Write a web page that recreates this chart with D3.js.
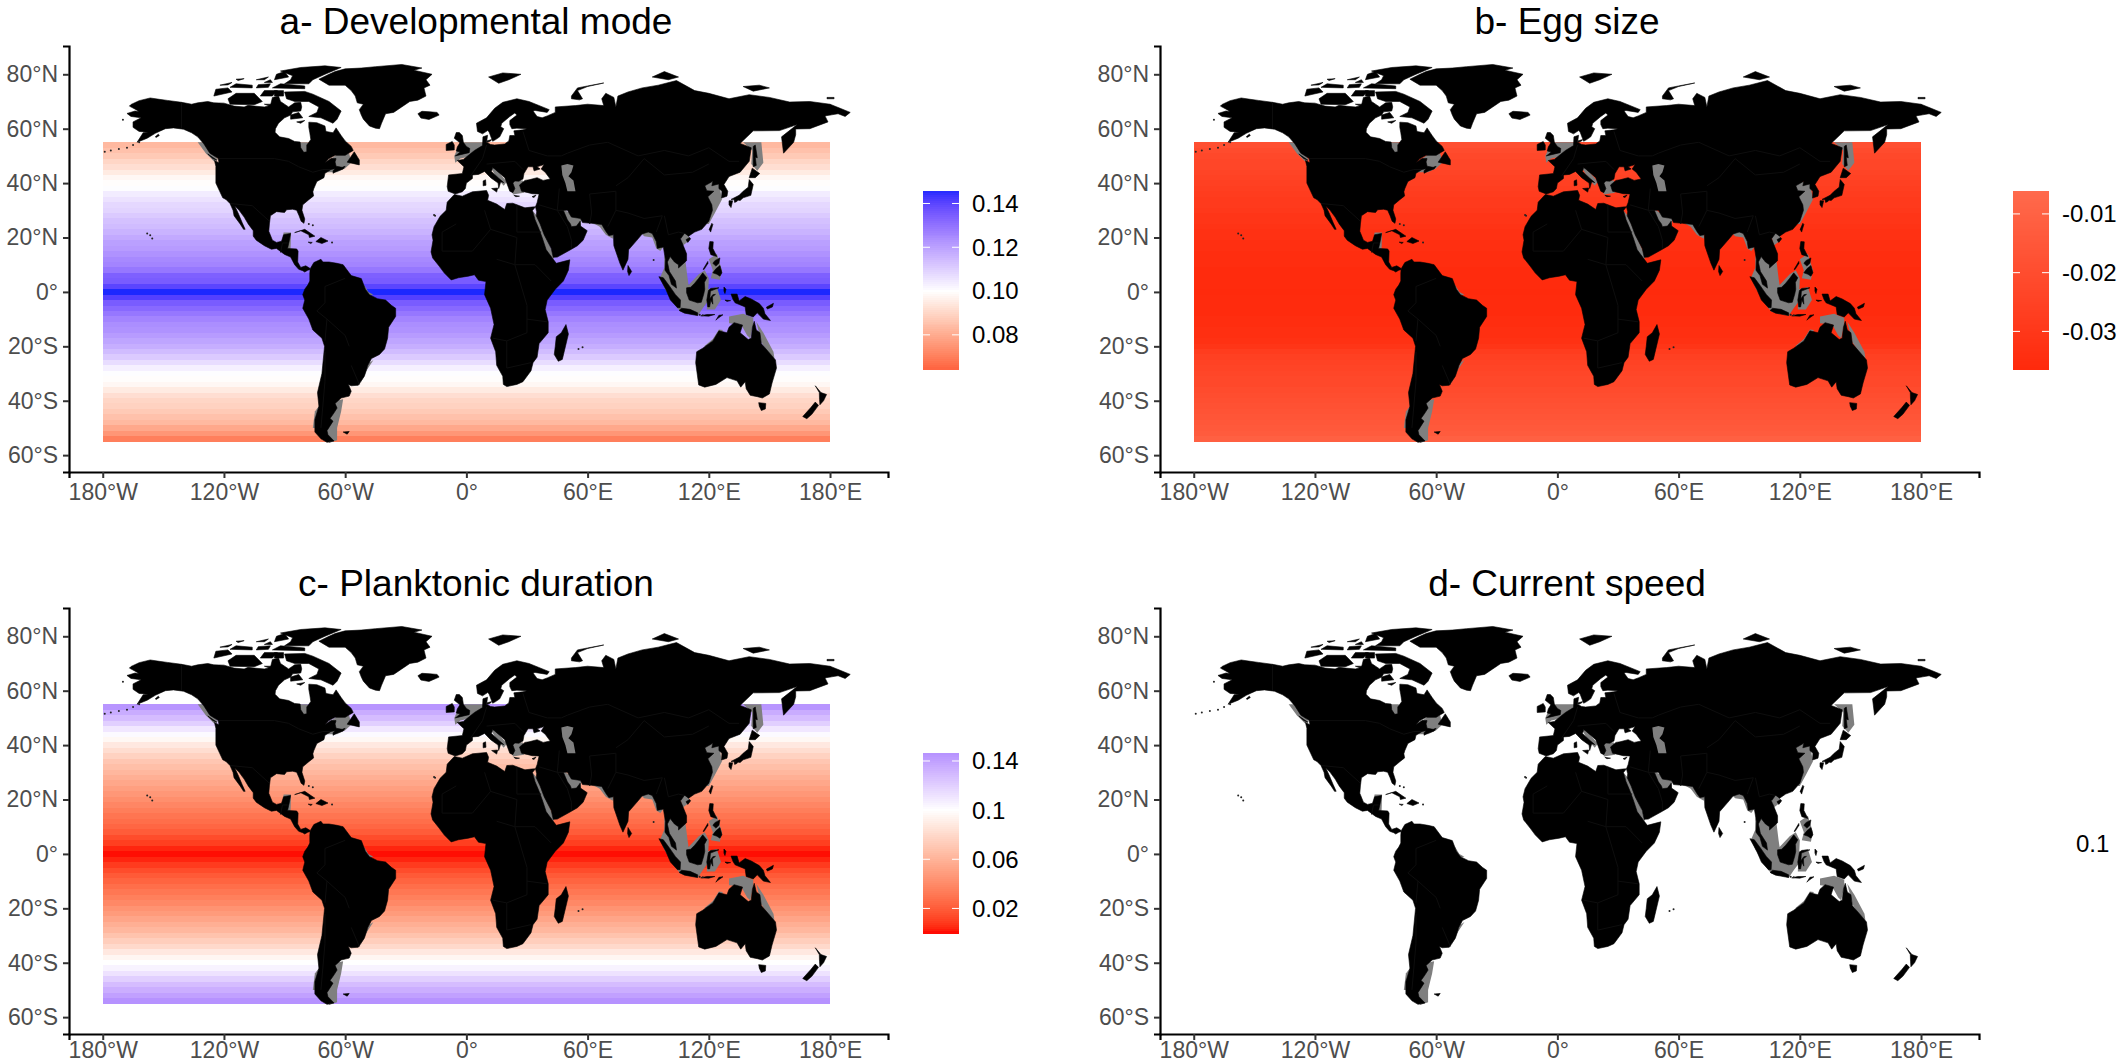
<!DOCTYPE html>
<html>
<head>
<meta charset="utf-8">
<title>Latitudinal gradients</title>
<script src="https://cdn.jsdelivr.net/npm/d3@7"></script>
<style>
  html, body { margin: 0; background: #fff; }
  svg { display: block; font-family: "Liberation Sans", Arial, sans-serif; }
</style>
</head>
<body>
<script>
// latitude bands, north to south, 2 degrees each
var bandLat = d3.range(54, -56, -2);

var devModeValues = [.083, .085, .087, .090, .092, .095, .098, .0995, .1005, .104, .106, .108, .109, .111, .113, .114, .116, .118, .120, .121, .123, .125, .126, .129, .134, .135, .140, .146, .141, .135, .132, .129, .126, .124, .123, .121, .119, .117, .114, .111, .107, .103, .1005, .0995, .098, .095, .092, .090, .089, .087, .085, .083, .079, .075, .070];
var eggSizeValues = [-.019, -.021, -.022, -.023, -.023, -.024, -.025, -.026, -.027, -.028, -.029, -.029, -.030, -.031, -.031, -.032, -.033, -.033, -.034, -.034, -.035, -.035, -.035, -.036, -.036, -.036, -.036, -.0364, -.036, -.036, -.036, -.036, -.035, -.035, -.034, -.034, -.033, -.031, -.028, -.026, -.025, -.024, -.023, -.022, -.022, -.021, -.020, -.019, -.018, -.017, -.016, -.015, -.014, -.013, -.011];
var planktonicValues = [.145, .135, .128, .120, .110, .102, .096, .088, .082, .076, .070, .066, .062, .058, .054, .050, .046, .042, .038, .034, .030, .027, .024, .020, .014, .010, .004, .001, .004, .009, .014, .019, .023, .027, .031, .035, .039, .044, .048, .053, .058, .062, .068, .074, .080, .088, .095, .100, .105, .112, .120, .128, .134, .140, .146];

var lonTicks = [-180, -120, -60, 0, 60, 120, 180];
var lonLabels = ["180°W", "120°W", "60°W", "0°", "60°E", "120°E", "180°E"];
var latTicks = [80, 60, 40, 20, 0, -20, -40, -60];
var latLabels = ["80°N", "60°N", "40°N", "20°N", "0°", "20°S", "40°S", "60°S"];

var titles = ["a- Developmental mode", "b- Egg size", "c- Planktonic duration", "d- Current speed"];

// land outlines, lon/lat
var northAmerica = [[-168,65.6],[-164,66.5],[-162,66.2],[-163.5,67],[-166.8,68.3],[-166,68.9],[-162,70.3],[-156.5,71.3],[-152,70.8],[-148,70.4],[-141,69.7],[-136,69],[-133,69.5],[-128,70],[-125,69.5],[-120,69.4],[-115,68.3],[-110,68],[-108,68.6],[-105,68.3],[-100,68],[-97,68.5],[-96,71.5],[-93,72],[-92,70],[-90,69],[-88,68],[-85,69.5],[-82,69.7],[-81.5,68],[-82,66.5],[-86,66.2],[-87,65],[-90,64],[-93,62],[-94.5,60],[-94.7,58.7],[-92.5,57],[-88,56.4],[-85,55.3],[-82.3,55.1],[-82,53],[-80.5,51.3],[-79,51.5],[-79,54],[-77,56],[-77.5,58.5],[-78,60.5],[-78,62.4],[-74,62.2],[-70,61],[-69.5,59],[-66,58.5],[-64.5,60.3],[-62,57.5],[-60,55.5],[-57,53.5],[-56,52],[-60,50.2],[-65,50.2],[-68,49],[-70,47.5],[-67,49],[-64.5,49],[-65,47.8],[-64.5,46.2],[-61.5,45.8],[-60,46.2],[-61,45.2],[-64,44.4],[-66,43.6],[-66,44.5],[-65,45.3],[-67,45],[-70,43.6],[-70.5,42],[-74,40.6],[-75.5,38],[-76,36.8],[-75.6,35.3],[-78,33.9],[-81,32],[-81.4,30],[-80,26.8],[-80.4,25.2],[-81.8,26],[-82.8,28],[-84,30],[-86,30.4],[-89,30.2],[-90,29.2],[-94,29.5],[-97,28],[-97.5,25],[-97.8,22.3],[-96,19],[-94,18.2],[-91.5,18.6],[-90.5,21],[-87,21.5],[-87.6,19],[-88.5,16],[-84,15.8],[-83.3,15],[-83.5,11],[-82,9],[-79.5,9.6],[-77.5,8.7],[-77.3,8.2],[-78.5,8],[-80,7.3],[-81,7.8],[-83,8.3],[-85,10],[-87,12.8],[-90,13.8],[-94,16],[-96.5,15.7],[-100,17],[-104,19],[-105.5,20.5],[-105.5,22.5],[-108,25],[-110,27.5],[-112.5,30],[-114.7,31.7],[-113,29],[-111,25.5],[-109.5,23],[-110.3,23],[-112,25],[-115,28],[-115.5,30],[-117,32.5],[-119,34],[-120.6,34.6],[-122,36.8],[-124,40],[-124,43],[-124,46.2],[-124.7,48.3],[-122.5,47.5],[-122.8,49],[-127,51],[-130,54.5],[-133,57],[-136,58.5],[-140,59.8],[-145,60.3],[-149,60],[-152,59],[-154,58.3],[-158,56.5],[-163,55],[-160,58.5],[-157.5,58.7],[-162,59],[-165,60.5],[-165,62.5],[-161,64],[-166,64.5]];
var southAmerica = [[-77.3,8.5],[-75.5,10.8],[-72,12],[-71,11],[-68,11],[-64,10.5],[-61,10],[-57,6],[-52,4.9],[-50,1],[-48,-1],[-44,-2.5],[-40,-3],[-37,-5],[-35,-6],[-35,-9],[-38.5,-13],[-39,-17],[-40.5,-21],[-43,-23],[-47,-24.5],[-48.7,-27],[-50.5,-31],[-53.5,-34.3],[-57,-34.5],[-58.4,-34],[-57,-36.5],[-58,-38.3],[-62,-39],[-65,-41],[-64,-42.7],[-66,-45],[-67.5,-46.5],[-66,-47.5],[-69,-51],[-68.5,-52.5],[-65.5,-54.8],[-69,-55.3],[-72,-54],[-75,-51.5],[-75,-47],[-73,-42],[-73.7,-37],[-71.5,-30],[-70.2,-20],[-71.5,-17],[-76,-14],[-78,-10],[-81,-6],[-80,-3],[-81,-1],[-80,1],[-78.5,2.5],[-77.5,4],[-77.5,7]];
var africa = [[-6,35.8],[-2,35.2],[3,36.8],[10,37.3],[11,35.5],[10.5,33.7],[15,32.3],[19,30.3],[20,32.5],[23,32.6],[29,30.9],[32.3,31.2],[34.2,31.3],[32.7,29.9],[34,26.5],[36,23],[37.5,20],[39.5,15.5],[43,12],[44.5,10.5],[51.2,11.8],[50.5,8],[48,4],[44,1],[40,-3],[39,-6.5],[40.5,-11],[40.5,-15],[36,-19],[35,-24],[33,-26],[32,-29],[28,-33],[25,-34],[20,-34.8],[18.3,-34],[18,-31],[15,-27],[14.5,-22],[12,-17],[13.7,-12],[12,-6],[9,-1],[9.7,3.8],[6,4.3],[4,6.3],[1,5.8],[-4,5.2],[-7.5,4.4],[-11,7],[-13.5,9.5],[-16.7,12.5],[-17.5,14.7],[-16.5,19],[-17,21],[-16,24],[-13,27.8],[-10,30],[-9.5,33]];
var eurasia = [[-5.5,36],[-9,37],[-9.5,38.7],[-8.8,43],[-2,43.5],[-1.2,46],[-4.5,48.3],[-1.5,48.7],[1.5,50.5],[4,52],[8,53.8],[8.2,57],[10.5,57.6],[10,55],[12,54.2],[14,54],[19,54.4],[21,55.5],[21.5,57.5],[24,57.5],[23.5,59.2],[28,59.6],[30,60],[25,60.2],[22.5,60],[21.5,61.5],[21.5,63],[25,65],[24,65.8],[21.5,64.5],[17.5,62],[17,60.7],[18.5,60],[16.5,57],[14.5,56],[13,55.4],[12.5,56.3],[11.2,58.9],[10.5,59.3],[8,58.1],[5.5,59],[5,62],[10,64],[14,67.5],[18,69.7],[25,71],[31,70],[41,67],[40,66],[34,66.7],[33,66.5],[35,64.5],[37.5,64],[40,64.7],[44,66],[44,68],[54,68.5],[60,69],[68,68.5],[67,71],[69,73],[73,71.5],[74,68],[75,72],[80,73.5],[87,75],[95,76],[104,77.7],[113,74],[120,73],[130,71],[140,72.5],[150,71.5],[160,69.8],[170,70],[180,69],[180,65],[177.5,64.7],[179,62.5],[170,60],[163,59.9],[163,57.8],[162,55],[157,51],[156,57],[163.7,61.5],[155,59.3],[142,59.2],[135.5,54.6],[141,53],[140,48],[135.5,44],[132,43],[130,42.4],[127.5,39.5],[129.4,37],[129,35.2],[126.3,34.5],[126.5,37],[125,38],[125,39.7],[121.5,39],[122,40.7],[118,39],[119,37.2],[122.5,37],[119.5,35],[121.5,32],[121.8,30],[120,26],[116.5,23],[113,22],[110,20.5],[108,21.6],[106,19.5],[109,14],[109,11.5],[105,8.8],[105,10],[103,11],[100.9,13],[99.5,11],[100.5,7.5],[103.5,4],[104,1.4],[101.5,2.8],[100.3,6],[98.3,8],[98.5,12],[97.5,16.5],[94.5,16],[94,18.5],[92,21.5],[90,22],[87,21.3],[85,19.5],[80.3,15.5],[80,12],[77.5,8],[76,10.5],[73,17],[72.8,21],[70.5,20.7],[69,22.3],[67,24.8],[62,25.2],[57.5,25.5],[56.5,27],[52,27.5],[50,30],[48,30],[50,26.5],[51.5,25],[52,24],[54.5,24.2],[56.3,26],[56.5,24.2],[59.8,22.5],[57.8,19],[55,17],[52,15.7],[45,12.8],[43,12.7],[42,16],[38.5,21],[36.5,25],[34.6,28],[34.8,29.5],[34.2,31.3],[35,32.8],[36,36],[32.5,36.1],[30.5,36.5],[27.3,37],[26.3,39.3],[29,41],[31,41.2],[35,42],[38,41],[41.5,41.5],[39,44],[37,45.2],[38.5,46.8],[35,46],[36.5,45.2],[33.5,44.5],[33,46],[30.5,46],[28.5,43.5],[28,41.5],[26,40.7],[24,40.8],[23,40],[24,38],[23,36.5],[21.5,37],[19.5,41],[19,42],[14,45.2],[13,45.7],[12.4,44.3],[16,41.8],[18.5,40.2],[17,40.5],[16,38],[15.7,40],[12,42],[9,44.3],[6,43.2],[3,43],[3,41.7],[0,40],[-0.5,38],[-2,36.8]];
var chukotkaEnd = [[180,69],[185,67.5],[190,66],[187.5,64.5],[184,65.5],[180,65]];
var greenland = [[-73,78.2],[-68,80],[-65,81],[-60,82],[-52,82.3],[-45,82.8],[-32,83.6],[-22,82.3],[-26,81.5],[-17,80],[-20,78],[-18,76],[-21,75],[-20,72],[-24,70.5],[-28,70],[-32,68],[-36,66],[-40,65.5],[-42,62],[-43,60],[-45,60.2],[-48,61],[-51,63.5],[-52,65],[-53,67],[-51,69],[-54,69.5],[-55,72],[-57,74],[-60,76],[-68,76]];
var arcticCanada = [
  [[-62,66.5],[-64,63.5],[-66,62],[-72,64],[-78,64.5],[-74,66],[-73,68],[-78,70],[-85,70],[-89,71],[-90,73.5],[-80,73.7],[-76,72.7],[-68,70]],
  [[-90,76.5],[-78,76.5],[-76,78],[-70,80],[-62,82.5],[-70,83.1],[-82,82.5],[-92,81.2],[-86,79.5],[-87,78]],
  [[-96,75],[-80,74.7],[-80,75.7],[-92,76.5]],
  [[-95,78],[-88,79],[-90,81],[-94,80]],
  [[-117,69],[-105,68.8],[-101,70],[-105,73],[-114,73],[-118,71]],
  [[-125,72],[-116,73.5],[-118,75],[-124,74.5]],
  [[-117,75.2],[-106,75],[-106,76],[-114,76.5]],
  [[-102,72],[-96,72],[-93.5,74],[-100,74]],
  [[-95,72],[-90.5,72],[-90.5,74],[-95,74]],
  [[-87,63.5],[-81,64],[-83,66],[-87,65]],
  [[-122,76],[-116,77],[-118,76.1]],
  [[-104,75],[-98,75.2],[-97,76.5],[-103,76.2]],
  [[-104,78],[-98,79],[-100,78]],
  [[-100,69],[-95.5,69],[-96,68]],
  [[-84,62.5],[-80,63],[-82,62]],
  [[-100,77],[-96,77],[-97,78]],
  [[-113,77.7],[-110,78.4],[-114,78.2]]
];
var otherLand = [
  [[-59,47.7],[-53,46.7],[-53,48.5],[-55.5,51.5]],
  [[-128,50.7],[-123.5,48.4],[-125.5,49]],
  [[-154,57],[-152.5,58],[-152,57.5],[-153.5,56.8]],
  [[-85,21.8],[-80,23],[-75,20.5],[-77.7,20],[-78,21],[-82,22.5]],
  [[-74.5,18.5],[-72,20],[-68.5,18.7],[-71.5,17.8]],
  [[-78.3,18.3],[-76.3,18.2],[-77,17.8]],
  [[-5.5,50],[1.4,51.2],[1.7,52.7],[0,53.5],[-1.5,55],[-2,57.5],[-3.5,58.6],[-5,58.6],[-6,56.5],[-3.2,54.8],[-4.5,53.3],[-5,51.8],[-3,51.4]],
  [[-6,52.2],[-6,54],[-7,55.3],[-10,54.2],[-10,52]],
  [[-24,65.5],[-22,66.4],[-18,66.2],[-14.5,66],[-13.5,65],[-18.5,63.4],[-22.5,63.9]],
  [[8.3,39],[9.7,39.2],[9.5,41.2],[8.3,40.8]],
  [[12.5,38],[15.5,38.2],[15,36.7]],
  [[23.5,35.5],[26.3,35.2],[24.5,35]],
  [[32.5,35],[34.5,35.6],[33.5,34.7]],
  [[12,55.5],[12.5,56],[10,55.5],[10.5,55]],
  [[52,71],[56,70.6],[57.5,71],[55,74],[60,75.5],[68,76.8],[62,76],[55,75],[52,72]],
  [[11,79],[16,76.7],[21,78],[27,80],[18,80.5]],
  [[92,79],[100,78],[105,79],[98,81]],
  [[137,75.5],[142,73.8],[150,75],[145,76]],
  [[178.5,71],[182,71],[182,71.5],[178.5,71.5]],
  [[131,34],[135,35.5],[137,37],[139.5,38.5],[140,41.3],[142,39.5],[140.8,35.5],[137,34.6],[135.5,33.6],[132.5,34]],
  [[130,33.5],[131.8,33.5],[131,31],[130,32]],
  [[132.5,33.9],[134.5,34.2],[134,33.3],[132.8,32.9]],
  [[140,42],[141.5,45.5],[145.2,43.5],[143,42]],
  [[142,46],[143.5,46.5],[143,49.5],[144,49.3],[143,54],[142,53.5],[142,50]],
  [[120.2,23],[121.5,25.2],[122,24.8],[120.9,22]],
  [[108.7,19.2],[110.5,20],[111,19.5],[109.6,18.2]],
  [[120,16],[120.5,18.5],[122.2,18.4],[122,16],[124,13],[121,13.7]],
  [[122,7],[123.5,8.5],[125.5,9.7],[126.5,7],[125.5,5.8],[124,6.5]],
  [[122,10.5],[123,11.5],[125.5,12.5],[125,10.5],[123.5,9.5]],
  [[117.2,8.3],[119.5,11.2],[119.6,10.5],[117.6,8.2]],
  [[109,1.5],[111,1.7],[113,3.2],[115,5],[117,7],[119,5.2],[117.8,3.5],[118,1],[117.5,-0.8],[116.3,-3.8],[114.5,-4],[110.3,-3],[109,-0.3]],
  [[95.3,5.6],[97.5,5.2],[100.5,2.2],[103.5,-1],[106,-3],[105.8,-5.8],[104.5,-5.8],[101,-3],[98.7,1]],
  [[105.3,-6.8],[106.5,-6],[110.7,-6.4],[114.5,-7.7],[114.5,-8.7],[108,-7.8]],
  [[119.5,-5.5],[119,-3],[119.8,0.5],[121,1.3],[125,1.5],[120.8,0.3],[120.5,-2.5],[122,-1],[123.3,-0.9],[121.8,-1.8],[122,-4.5],[121,-3],[120.4,-5.5]],
  [[131,-0.8],[134,-0.8],[135,-3.3],[138,-1.7],[141,-2.6],[145,-4.3],[147,-6],[147.8,-8],[150.5,-10.5],[147,-10],[144,-7.7],[142,-9.2],[138.5,-8.3],[138,-5.5],[133,-4],[132,-2.8]],
  [[124,-10],[127,-8.4],[125,-8.6],[123.5,-10.4]],
  [[116,-8.8],[119,-8.3],[123,-8.3],[120,-8.9]],
  [[127.5,1.8],[128.5,1],[128,-0.6],[127.5,0.3]],
  [[128,-3],[130.8,-3.2],[129,-3.5]],
  [[148.5,-5.6],[152,-4.2],[151.5,-5.5],[149,-6.3]],
  [[80,9.7],[81.8,7.5],[80.5,6],[79.8,7.5]],
  [[49.3,-12],[50.5,-15.5],[47.5,-24.8],[45.5,-25.5],[43.5,-23],[44,-20],[44.5,-16.5],[47,-15]],
  [[114,-22],[113.5,-26],[115,-34.2],[118,-35],[123.5,-34],[129,-31.5],[134,-32.7],[135.8,-35],[138,-33],[138.5,-35.6],[140.5,-38],[144,-38.5],[146.5,-39],[150,-37.5],[151.3,-33.5],[153.5,-28],[153,-25],[149.5,-22],[146,-19],[145.3,-15],[143.5,-14],[142.5,-10.8],[141.6,-13],[141,-17],[139.5,-17.5],[135.5,-15],[136.7,-12.2],[132.5,-11.3],[130,-13],[129,-15],[125,-14.3],[122,-18],[117,-20.7]],
  [[144.7,-40.7],[148.2,-41],[148,-43],[146,-43.6],[145,-42]],
  [[172.7,-34.5],[175.5,-37],[178.3,-37.7],[176.8,-40],[175,-41.5],[174.8,-39.5],[174.7,-37]],
  [[172.7,-40.5],[174.3,-41.7],[171,-45],[168.5,-46.6],[166.5,-45.8],[170.5,-42.5]],
  [[-61,-51.5],[-58,-51.3],[-59,-52.3]]
];
// small islands, lon/lat
var specks = [[-155.5,19.6],[-156.5,20.8],[-158,21.5],[-176,52],[-172,52.5],[-168,53],[-165,54],[-162,55],[-179,51.5],[-170,63.3],[-16,28.3],[-15.5,28],[-66.5,18.2],[57.5,-20.3],[55.5,-21],[115.5,-8.4],[117,-8.6],[92.7,11.7],[-78,25],[-76,24.5]];
// shelf seas shown grey, under the land
var shelfSeas = [
  [[-83,55],[-78.5,55],[-78,51],[-82,50.5]],
  [[-70,47.5],[-64,50.5],[-58,51],[-57,47.5],[-60,45.5],[-64,44],[-67,44],[-70,44]],
  [[-133,55],[-129,55],[-123,48.5],[-125,48],[-129,51]],
  [[-90.5,21.8],[-86.8,21.8],[-87,16],[-89,15.5],[-91,18]],
  [[-3,55],[9.5,55],[9.5,53],[3,50],[-3,49],[-5.5,47.5],[-6,50]],
  [[12,45.8],[14,45.8],[20,40.5],[18.5,39],[15,42]],
  [[22,41],[28,41],[28.5,36.5],[23,35.8]],
  [[32.5,30],[35,28],[39,21],[43.5,13],[43,12],[39,15],[37,20],[34,26]],
  [[48,30.5],[51,29],[57,27],[56.5,24],[51,23],[48,27]],
  [[62,25.6],[68,25.5],[73,23],[72.5,19.5],[69,21],[66,24]],
  [[86,22],[92,23],[94.5,19],[98,17],[96,15],[94,16],[92,20],[88,20.5]],
  [[98,13],[101,14],[105,12],[108.5,11],[109.5,5],[110,2.5],[115,6.5],[118,8],[120,5],[119.5,-3.5],[117,-6],[114.5,-8.8],[106,-7.3],[104,-5.5],[98,1.5],[96,5.5],[98,9]],
  [[105.5,21.8],[110,22],[110.5,19],[107,17]],
  [[117,40.5],[125,40.5],[126.5,34],[123,29],[120,25],[119,25],[121,31]],
  [[120,12],[124,14],[126.5,8],[125.5,4.5],[121,5],[122,8]],
  [[119.5,1],[124,1.8],[126,-3],[123,-6.5],[119,-6.5]],
  [[137,55],[146,55],[147,47.5],[144,44.5],[141,47],[141.5,52]],
  [[130,-9],[137,-8],[142,-9.5],[142,-12],[140.5,-17],[139,-16],[136,-12],[130,-11.5]],
  [[143.5,-11],[147,-15],[152,-22],[152.5,-24.5],[149.5,-22.5],[146,-18.5]],
  [[118,-19.8],[122,-17.3],[125,-13.8],[127,-14],[123,-18.5],[118,-20.8]],
  [[-65,-40],[-61,-39.5],[-62,-44],[-64,-50],[-64,-54.5],[-68,-55.5],[-70,-52],[-68,-47],[-66,-44]],
  [[-75,-44],[-73,-42],[-74,-50],[-76,-50]],
  [[-48,-26],[-46,-25],[-49.5,-29],[-52,-33],[-53,-34.5],[-51.5,-32]],
  [[-51,3],[-48.5,0],[-46,-1],[-48,-1.2],[-50,0.5]]
];
// seas that lie over the land outlines
var inlandSeas = [
  [[47,46.5],[50,47],[53,46.5],[52,44],[50.5,42.5],[53,41],[54,37],[50,37],[49,40],[47.5,43]]
];
// faint country lines
var borders = [
  [[-141,69.7],[-141,60]],
  [[-123,49],[-95,49],[-88,48],[-83,46],[-76,44],[-71,45],[-67,45]],
  [[-117,32.5],[-106,31.7],[-97.5,26]],
  [[-92,14.5],[-91,18],[-88.5,18]],
  [[-70,-18],[-69,-10],[-74,-7],[-70,-4],[-70,2],[-60,5]],
  [[-58,-20],[-60,-16],[-69,-10]],
  [[-70,-22],[-70,-33],[-72,-50]],
  [[-57,-27],[-53,-34]],
  [[25,32],[25,22],[37,22]],
  [[12,23],[25,20],[24,10],[34,10],[42,4]],
  [[-5,25],[-12,22],[-12,15],[3,15],[12,23],[9,30]],
  [[15,12],[24,10],[30,-5],[30,-15],[20,-18],[13,-17]],
  [[20,-18],[20,-28],[32,-26]],
  [[40,-11],[30,-10]],
  [[10,47],[24,48],[28,45]],
  [[2,42.5],[8,49],[10,54]],
  [[28,59],[31,52],[40,50],[47,50],[50,51],[61,54],[70,55],[85,50]],
  [[85,50],[98,52],[110,50],[120,53],[130,48],[135,48]],
  [[74,39],[80,42],[88,49],[98,43],[112,44],[120,47]],
  [[61,36],[62,29],[61,25]],
  [[61,36],[74,37],[74,30],[70,24]],
  [[74,30],[80,29],[88,27],[97,28],[94,22]],
  [[98,28],[100,21],[105,22],[108,21.5]],
  [[46,38],[45,30],[48,30]],
  [[36,32],[45,30],[50,24],[52,19],[52,16]]
];

// horizontal offset, vertical offset, tick padding of each panel
var panelX = [0, 1091, 0, 1091];
var panelY = [0, 0, 562, 562];
var panelPad = [6, 6, 2, 2];

var width = 2120;
var height = 1063;

var x = d3.scaleLinear().domain([-196.7, 208.7]).range([69, 888]);
var y = d3.scaleLinear().domain([-66.2, 90.4]).range([472, 46]);

var svg = d3.select("body").append("svg")
  .attr("width", width)
  .attr("height", height);

var landPath = d3.line()
  .x(function (d) { return x(d[0]); })
  .y(function (d) { return y(d[1]); });

function closed(points) {
  return landPath(points) + "Z";
}

var allLand = [northAmerica, southAmerica, africa, eurasia, chukotkaEnd, greenland]
  .concat(arcticCanada, otherLand);

// colour scales, mid colour at white like the original gradients
var colorDev = d3.scaleLinear()
  .domain([.054, .1, .146])
  .range(["#ff0000", "#ffffff", "#1c28ff"])
  .interpolate(d3.interpolateLab);
var colorEgg = d3.scaleLinear()
  .domain([-.0364, -.0061])
  .range(["#ff2a0c", "#ff6a4c"]);
var colorPlank = d3.scaleLinear()
  .domain([0, .1, .2])
  .range(["#ff0000", "#ffffff", "#0000ff"])
  .interpolate(d3.interpolateLab);

function drawPanel(i, values, color) {
  var g = svg.append("g").attr("transform", "translate(" + panelX[i] + "," + panelY[i] + ")");

  // latitude bands
  if (values) {
    g.selectAll("rect.band")
      .data(values)
      .enter()
      .append("rect")
      .attr("class", "band")
      .attr("x", x(-180))
      .attr("width", x(180) - x(-180))
      .attr("y", function (d, j) { return y(bandLat[j] + 1); })
      .attr("height", function (d, j) { return y(bandLat[j] - 1) - y(bandLat[j] + 1); })
      .attr("shape-rendering", "crispEdges")
      .style("fill", function (d) { return color(d); });
  }

  g.selectAll("path.shelf")
    .data(shelfSeas)
    .enter()
    .append("path")
    .attr("class", "shelf")
    .attr("d", closed)
    .style("fill", "#7f7f7f");

  g.selectAll("path.land")
    .data(allLand)
    .enter()
    .append("path")
    .attr("class", "land")
    .attr("d", closed)
    .style("fill", "#000")
    .style("stroke", "#000")
    .style("stroke-width", 0.6);

  g.selectAll("path.border")
    .data(borders)
    .enter()
    .append("path")
    .attr("class", "border")
    .attr("d", landPath)
    .style("fill", "none")
    .style("stroke", "#0e0e0e")
    .style("stroke-width", 1);

  g.selectAll("circle.speck")
    .data(specks)
    .enter()
    .append("circle")
    .attr("class", "speck")
    .attr("cx", function (d) { return x(d[0]); })
    .attr("cy", function (d) { return y(d[1]); })
    .attr("r", 1)
    .style("fill", "#222");

  g.selectAll("path.inland")
    .data(inlandSeas)
    .enter()
    .append("path")
    .attr("class", "inland")
    .attr("d", closed)
    .style("fill", "#7f7f7f");

  // axes
  var xAxis = g.append("g")
    .attr("transform", "translate(0,472)")
    .call(d3.axisBottom(x).tickValues(lonTicks).tickFormat(function (d, j) { return lonLabels[j]; }).tickSize(6).tickPadding(panelPad[i]));
  var yAxis = g.append("g")
    .attr("transform", "translate(69,0)")
    .call(d3.axisLeft(y).tickValues(latTicks).tickFormat(function (d, j) { return latLabels[j]; }).tickSize(6).tickPadding(5));

  [xAxis, yAxis].forEach(function (axis) {
    axis.selectAll("path.domain").attr("stroke", "#000").attr("stroke-width", 2.2);
    axis.selectAll("line").attr("stroke", "#333").attr("stroke-width", 2);
    axis.selectAll("text")
      .style("font-family", "'Liberation Sans', Arial, sans-serif")
      .style("font-size", "23px")
      .style("fill", "#4d4d4d");
  });

  g.append("text")
    .attr("x", 476)
    .attr("y", 34)
    .attr("text-anchor", "middle")
    .style("font-size", "37px")
    .style("fill", "#000")
    .text(titles[i]);
}

// colour bar legend: top and bottom values map onto the bar's pixel extent
function drawLegend(px, top, bottom, color, domain, tickValues, tickLabels) {
  var g = svg.append("g");
  var bar = d3.scaleLinear().domain(domain).range([top, bottom]);
  var n = 90;
  var stepH = (bottom - top) / n;

  g.selectAll("rect")
    .data(d3.range(n))
    .enter()
    .append("rect")
    .attr("x", px)
    .attr("width", 36)
    .attr("y", function (d) { return top + d * stepH; })
    .attr("height", stepH + 0.5)
    .attr("shape-rendering", "crispEdges")
    .style("fill", function (d) { return color(bar.invert(top + (d + 0.5) * stepH)); });

  tickValues.forEach(function (v, j) {
    [[px, px + 7], [px + 29, px + 36]].forEach(function (seg) {
      g.append("line")
        .attr("x1", seg[0]).attr("x2", seg[1])
        .attr("y1", bar(v)).attr("y2", bar(v))
        .attr("stroke", "#fff")
        .attr("stroke-width", 1);
    });
    g.append("text")
      .attr("x", px + 49)
      .attr("y", bar(v))
      .attr("dy", "0.35em")
      .style("font-size", "24px")
      .style("fill", "#000")
      .text(tickLabels[j]);
  });
}

drawPanel(0, devModeValues, colorDev);
drawPanel(1, eggSizeValues, colorEgg);
drawPanel(2, planktonicValues, colorPlank);
drawPanel(3, null, null);

drawLegend(923, 191, 369, colorDev, [.1457, .0644], [.14, .12, .10, .08], ["0.14", "0.12", "0.10", "0.08"]);
drawLegend(2013, 191, 369, colorEgg, [-.0061, -.0364], [-.01, -.02, -.03], ["-0.01", "-0.02", "-0.03"]);
drawLegend(923, 753, 933, colorPlank, [.1465, 0], [.14, .1, .06, .02], ["0.14", "0.1", "0.06", "0.02"]);

svg.append("text")
  .attr("x", 2076)
  .attr("y", 844)
  .attr("dy", "0.35em")
  .style("font-size", "24px")
  .style("fill", "#000")
  .text("0.1");
</script>
</body>
</html>
